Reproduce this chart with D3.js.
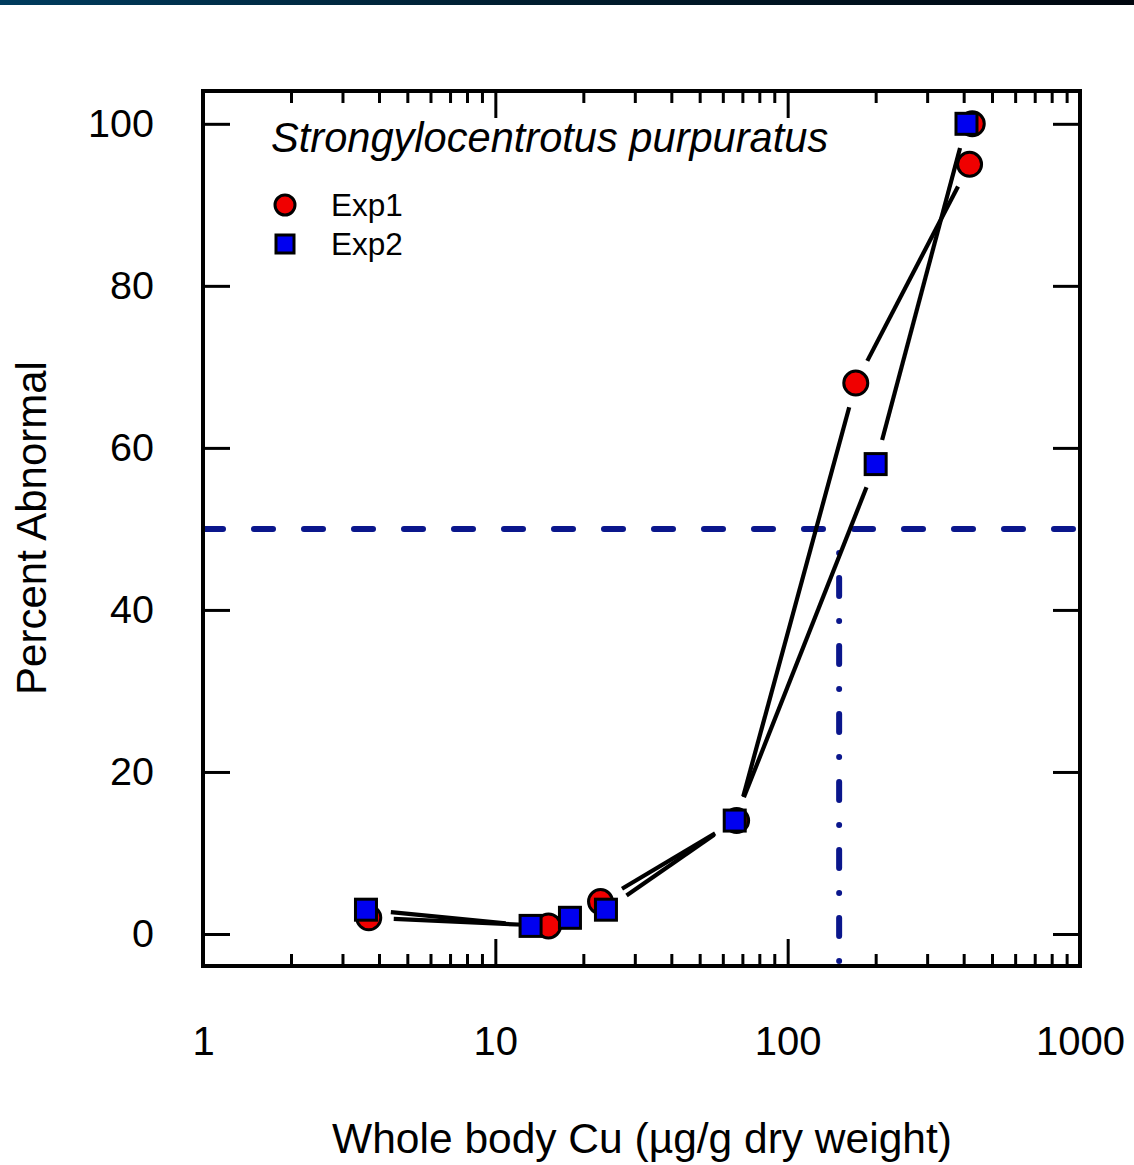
<!DOCTYPE html>
<html>
<head>
<meta charset="utf-8">
<script src="https://cdn.jsdelivr.net/npm/d3@7"></script>
<style>
  html, body { margin: 0; padding: 0; background: #fff; }
  svg { display: block; }
  text { font-family: "Liberation Sans", Arial, Helvetica, sans-serif; fill: #000; }
</style>
</head>
<body>
<svg id="chart" width="1134" height="1165"></svg>
<script>
// Whole-body copper vs. percent abnormal larvae, two experiments
const exp1Cu = [3.69, 15.2, 22.9, 66.9, 171, 419, 428];
const exp1Abnormal = [2, 1, 4, 14, 68, 95, 100];
const exp2Cu = [3.61, 13.2, 18.0, 23.9, 65.9, 200, 409];
const exp2Abnormal = [3, 1, 2, 3, 14, 58, 100];

const xTickValues = [1, 10, 100, 1000];
const xTickLabels = ["1", "10", "100", "1000"];
const yTickValues = [0, 20, 40, 60, 80, 100];
const yTickLabels = ["0", "20", "40", "60", "80", "100"];

const seriesNames = ["Exp1", "Exp2"];
const speciesName = "Strongylocentrotus purpuratus";
const xTitle = "Whole body Cu (\u00b5g/g dry weight)";
const yTitle = "Percent Abnormal";

// EC50 reference: 50 % response at ~150 µg/g
const ec50Level = 50;
const ec50Cu = 150;

const svg = d3.select("#chart");
const W = 1134, H = 1165;
const frame = { left: 203, right: 1080, top: 91, bottom: 966 };

// header band
const defs = svg.append("defs");
const grad = defs.append("linearGradient").attr("id", "band").attr("x1", "0").attr("x2", "1");
grad.append("stop").attr("offset", "0").attr("stop-color", "#003c5e");
grad.append("stop").attr("offset", "0.45").attr("stop-color", "#001e30");
grad.append("stop").attr("offset", "1").attr("stop-color", "#00060e");
svg.append("rect").attr("x", 0).attr("y", 0).attr("width", W).attr("height", 5).attr("fill", "url(#band)");

const x = d3.scaleLog().domain([1, 1000]).range([frame.left, frame.right]);
const y = d3.scaleLinear().domain([-3.95, 104.05]).range([frame.bottom, frame.top]);

const navy = "#0a168c";

// 50 % line
svg.append("line")
  .attr("x1", x(1)).attr("x2", x(1000))
  .attr("y1", y(ec50Level)).attr("y2", y(ec50Level))
  .attr("stroke", navy).attr("stroke-width", 6)
  .attr("stroke-linecap", "round")
  .attr("stroke-dasharray", "19,31").attr("stroke-dashoffset", -1);

// EC50 drop line (dash-dot)
svg.append("line")
  .attr("x1", x(ec50Cu)).attr("x2", x(ec50Cu))
  .attr("y1", y(ec50Level)).attr("y2", frame.bottom)
  .attr("stroke", navy).attr("stroke-width", 6)
  .attr("stroke-linecap", "round")
  .attr("stroke-dasharray", "18,25,0,25").attr("stroke-dashoffset", 19);

// connecting lines with gaps around each marker
const gap = 25;
function gappedSegments(xs, ys) {
  const pts = xs.map((v, i) => [x(v), y(ys[i])]);
  const segs = [];
  for (let i = 0; i < pts.length - 1; i++) {
    const [x1, y1] = pts[i], [x2, y2] = pts[i + 1];
    const d = Math.hypot(x2 - x1, y2 - y1);
    if (d <= 2 * gap) continue;
    const ux = (x2 - x1) / d, uy = (y2 - y1) / d;
    segs.push([x1 + ux * gap, y1 + uy * gap, x2 - ux * gap, y2 - uy * gap]);
  }
  return segs;
}
const lineG = svg.append("g").attr("stroke", "#000").attr("stroke-width", 4.2).attr("stroke-linecap", "butt");
[[exp1Cu, exp1Abnormal], [exp2Cu, exp2Abnormal]].forEach(([xs, ys]) => {
  lineG.selectAll(null).data(gappedSegments(xs, ys)).enter().append("line")
    .attr("x1", d => d[0]).attr("y1", d => d[1])
    .attr("x2", d => d[2]).attr("y2", d => d[3]);
});

// markers
const red = "#f00000", blue = "#0000f0";
svg.append("g").selectAll("circle")
  .data(exp1Cu.map((v, i) => [v, exp1Abnormal[i]])).enter().append("circle")
  .attr("cx", d => x(d[0])).attr("cy", d => y(d[1])).attr("r", 12)
  .attr("fill", red).attr("stroke", "#000").attr("stroke-width", 3);
const sq = 21;
svg.append("g").selectAll("rect")
  .data(exp2Cu.map((v, i) => [v, exp2Abnormal[i]])).enter().append("rect")
  .attr("x", d => x(d[0]) - sq / 2).attr("y", d => y(d[1]) - sq / 2)
  .attr("width", sq).attr("height", sq)
  .attr("fill", blue).attr("stroke", "#000").attr("stroke-width", 3);

// axes (ticks inward on all four sides)
const majorLen = 27, minorLen = 12;
const minorVals = [];
for (let dec = 1; dec < 1000; dec *= 10) for (let k = 2; k <= 9; k++) minorVals.push(dec * k);

const bottomMajor = d3.axisBottom(x).tickValues(xTickValues).tickSize(-majorLen)
  .tickFormat((d, i) => xTickLabels[i]).tickPadding(majorLen + 34);
const gB = svg.append("g").attr("transform", `translate(0,${frame.bottom})`).call(bottomMajor);
const bottomMinor = d3.axisBottom(x).tickValues(minorVals).tickSize(-minorLen).tickFormat("");
svg.append("g").attr("transform", `translate(0,${frame.bottom})`).call(bottomMinor);

const topMajor = d3.axisTop(x).tickValues(xTickValues).tickSize(-majorLen).tickFormat("");
svg.append("g").attr("transform", `translate(0,${frame.top})`).call(topMajor);
const topMinor = d3.axisTop(x).tickValues(minorVals).tickSize(-minorLen).tickFormat("");
svg.append("g").attr("transform", `translate(0,${frame.top})`).call(topMinor);

const leftAxis = d3.axisLeft(y).tickValues(yTickValues).tickSize(-majorLen)
  .tickFormat((d, i) => yTickLabels[i]).tickPadding(majorLen + 22);
const gL = svg.append("g").attr("transform", `translate(${frame.left},0)`).call(leftAxis);
const rightAxis = d3.axisRight(y).tickValues(yTickValues).tickSize(-majorLen).tickFormat("");
svg.append("g").attr("transform", `translate(${frame.right},0)`).call(rightAxis);

svg.selectAll(".domain").remove();
svg.selectAll(".tick line").attr("stroke", "#000").attr("stroke-width", 3);
gB.selectAll(".tick text").attr("font-size", 40).attr("fill", "#000")
  .attr("font-family", "'Liberation Sans', Arial, sans-serif");
gL.selectAll(".tick text").attr("font-size", 39.5).attr("fill", "#000")
  .attr("font-family", "'Liberation Sans', Arial, sans-serif");

// frame
svg.append("rect")
  .attr("x", frame.left).attr("y", frame.top)
  .attr("width", frame.right - frame.left).attr("height", frame.bottom - frame.top)
  .attr("fill", "none").attr("stroke", "#000").attr("stroke-width", 4);

// titles
svg.append("text").attr("x", 642).attr("y", 1153)
  .attr("text-anchor", "middle").attr("font-size", 42.5).text(xTitle);
svg.append("text").attr("transform", `translate(46,528) rotate(-90)`)
  .attr("text-anchor", "middle").attr("font-size", 42).text(yTitle);
svg.append("text").attr("x", 271).attr("y", 152)
  .attr("font-size", 41.6).attr("font-style", "italic").text(speciesName);

// legend
const lg = svg.append("g");
lg.append("circle").attr("cx", 285).attr("cy", 205).attr("r", 10)
  .attr("fill", red).attr("stroke", "#000").attr("stroke-width", 3);
lg.append("rect").attr("x", 285 - 9).attr("y", 244 - 9).attr("width", 18).attr("height", 18)
  .attr("fill", blue).attr("stroke", "#000").attr("stroke-width", 3);
lg.append("text").attr("x", 331).attr("y", 216).attr("font-size", 31.5).text(seriesNames[0]);
lg.append("text").attr("x", 331).attr("y", 255).attr("font-size", 31.5).text(seriesNames[1]);
</script>
</body>
</html>
